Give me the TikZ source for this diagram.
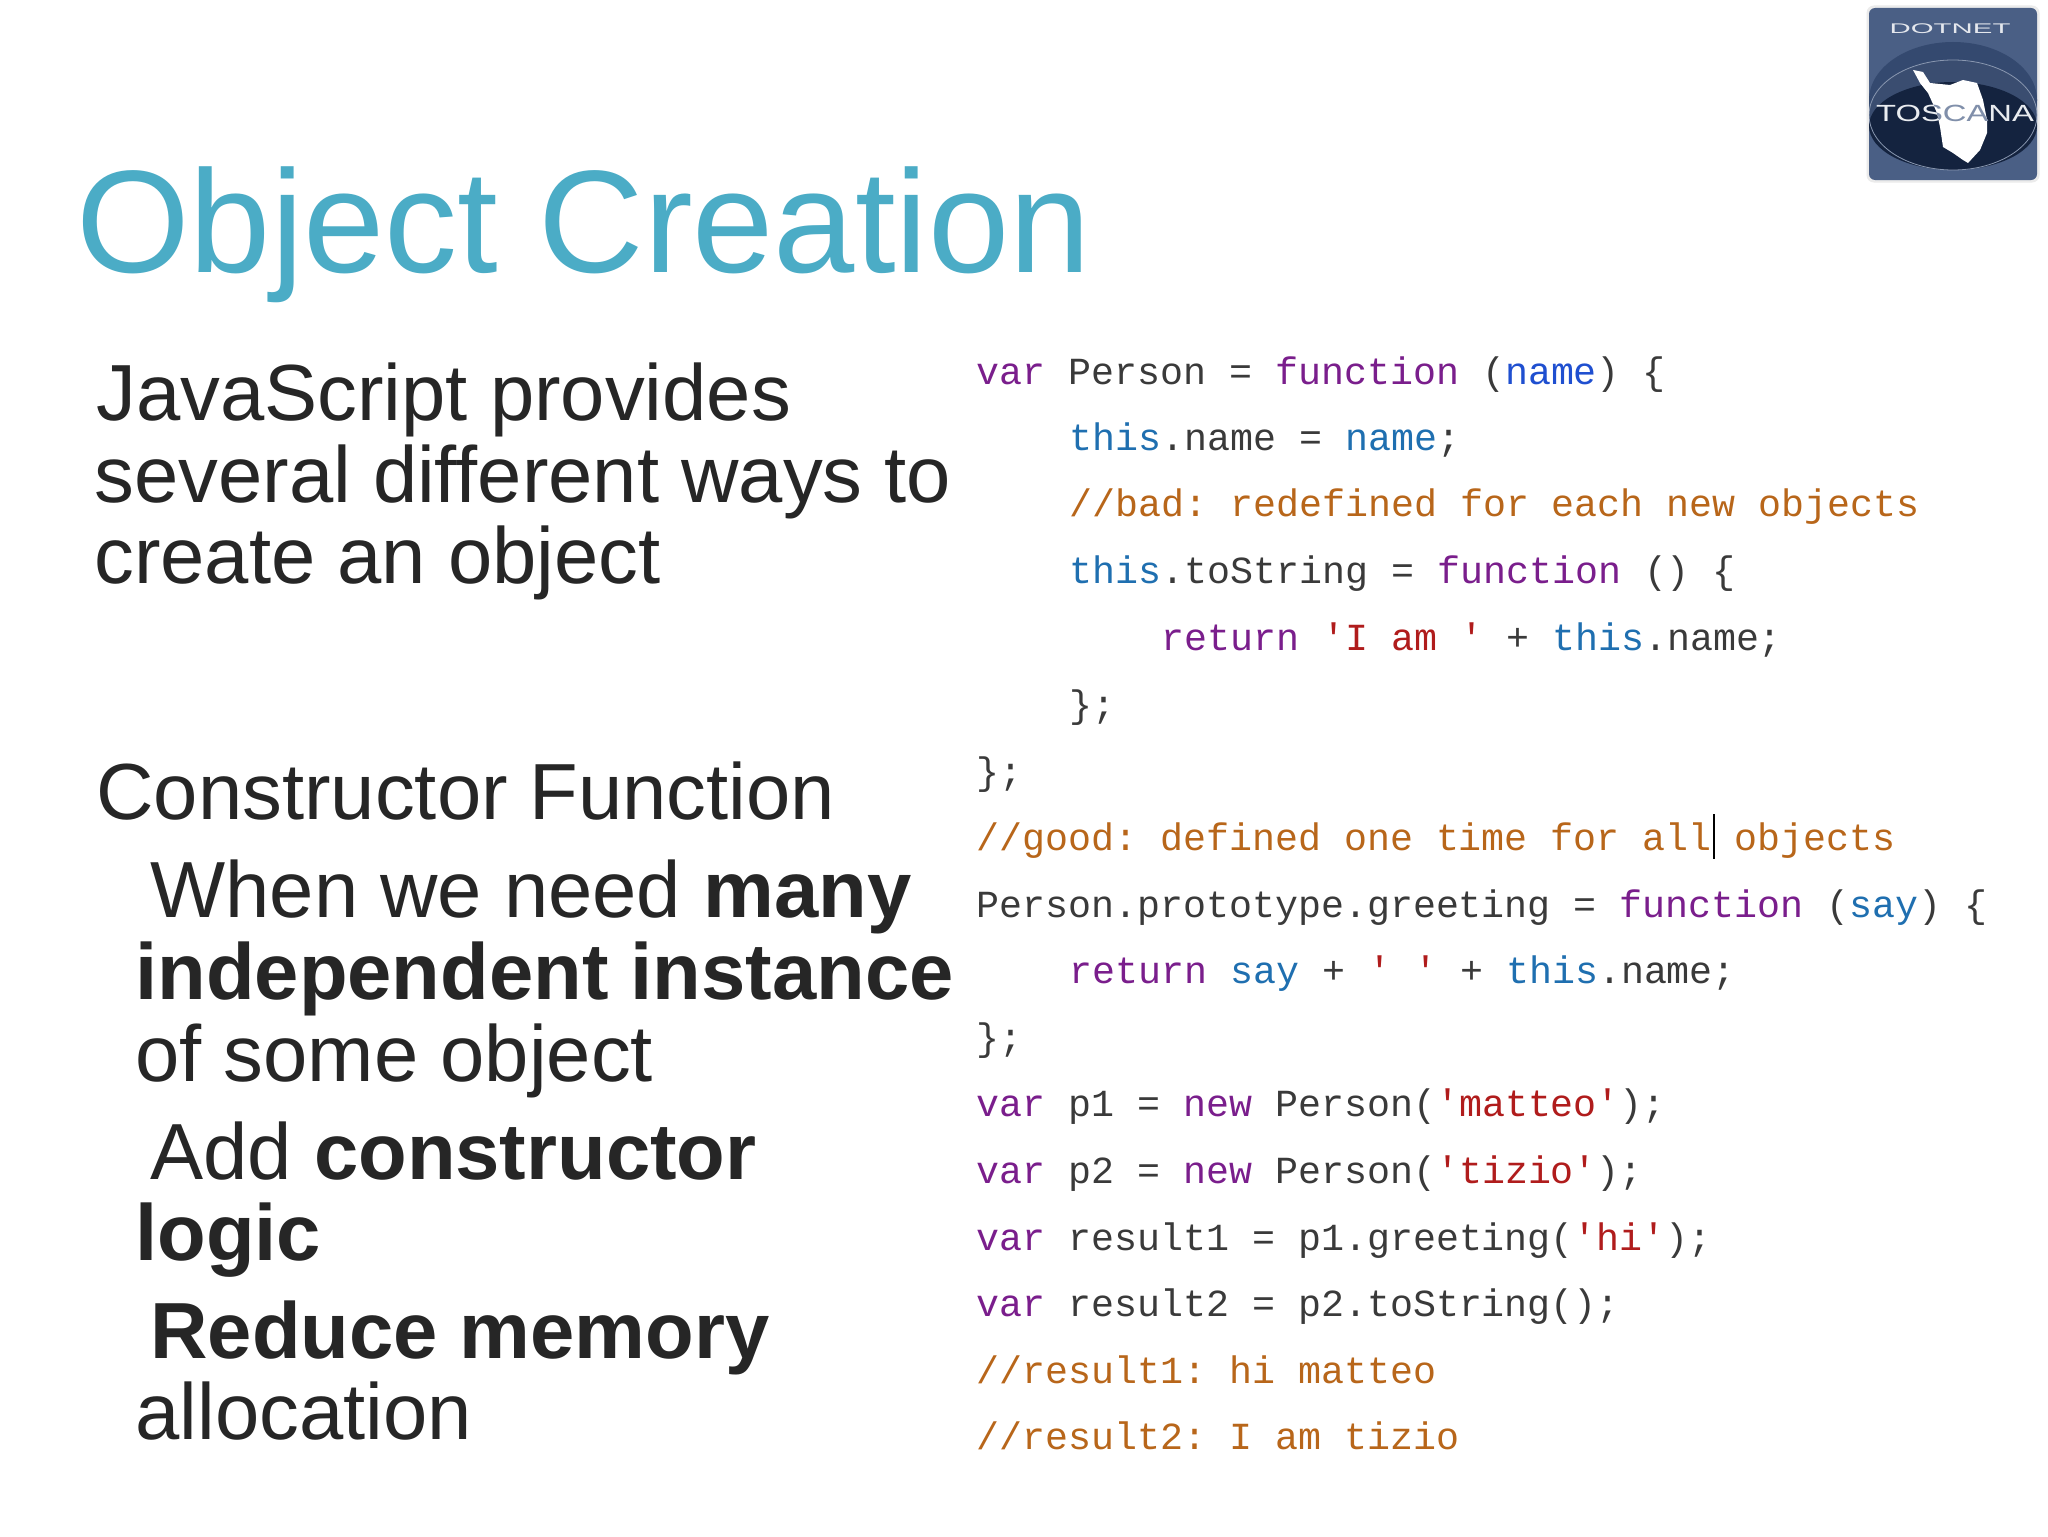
\documentclass[tikz,border=0pt]{standalone}
\usepackage{fontspec}
\setmainfont{Liberation Sans}
\setmonofont{Liberation Mono}
\definecolor{titleC}{HTML}{4BACC6}
\definecolor{bodyC}{HTML}{262626}
\definecolor{kw}{HTML}{7A1E8C}
\definecolor{thisC}{HTML}{1F6FB0}
\definecolor{argC}{HTML}{1F4FD0}
\definecolor{cm}{HTML}{B8661A}
\definecolor{strC}{HTML}{B01C1C}
\definecolor{plain}{HTML}{3A3A3A}
\definecolor{logoBg}{HTML}{4A5F85}
\definecolor{logoMid}{HTML}{34496F}
\definecolor{logoDark}{HTML}{14233F}
\newcommand{\K}[1]{\textcolor{kw}{#1}}
\newcommand{\T}[1]{\textcolor{thisC}{#1}}
\newcommand{\A}[1]{\textcolor{argC}{#1}}
\newcommand{\C}[1]{\textcolor{cm}{#1}}
\newcommand{\Q}[1]{\textcolor{strC}{#1}}
\tikzset{
  x=0.5pt,y=-0.5pt,
  head/.style={anchor=base west,inner sep=0pt,text=titleC,font=\fontsize{73}{73}\selectfont},
  txt/.style={anchor=base west,inner sep=0pt,text=bodyC,font=\fontsize{39.8}{40}\selectfont},
  code/.style={anchor=base west,inner sep=0pt,text=plain,font=\ttfamily\fontsize{19.15}{20}\selectfont},
  logotall/.style={inner sep=0pt,xscale=1.4,font=\fontsize{11.7}{12}\selectfont},
  logosmall/.style={inner sep=0pt,xscale=2.1,text=white!85!logoBg,font=\fontsize{7}{8}\selectfont}
}
\begin{document}
\begin{tikzpicture}
\useasboundingbox (0,0) rectangle (2048,1536);
\fill[white] (0,0) rectangle (2048,1536);
\node[head] (title) at (76,272) {Object Creation};
\node[txt] (l1) at (96,420) {JavaScript provides};
\node[txt] (l2) at (94,502) {several different ways to};
\node[txt] (l3) at (94,583) {create an object};
\node[txt] (l4) at (96,819) {Constructor Function};
\node[txt] (l5) at (150,917) {When we need \textbf{many}};
\node[txt] (l6) at (135,999) {\textbf{independent instance}};
\node[txt] (l7) at (135,1081) {of some object};
\node[txt] (l8) at (150,1179) {Add \textbf{constructor}};
\node[txt] (l9) at (135,1260) {\textbf{logic}};
\node[txt] (l10) at (150,1358) {\textbf{Reduce memory}};
\node[txt] (l11) at (135,1439) {allocation};
% code
\node[code] (c1) at (976,384) {\K{var} Person = \K{function} (\A{name}) \{};
\node[code] (c2) at (1069,450) {\T{this}.name = \T{name};};
\node[code] (c3) at (1069,516) {\C{//bad: redefined for each new objects}};
\node[code] (c4) at (1069,583) {\T{this}.toString = \K{function} () \{};
\node[code] (c5) at (1161,650) {\K{return} \Q{'I am '} + \T{this}.name;};
\node[code] (c6) at (1069,717) {\};};
\node[code] (c7) at (976,784) {\};};
\node[code] (c8) at (976,850) {\C{//good: defined one time for all objects}};
\node[code] (c9) at (976,917) {Person.prototype.greeting = \K{function} (\T{say}) \{};
\node[code] (c10) at (1069,983) {\K{return} \T{say} + \Q{' '} + \T{this}.name;};
\node[code] (c11) at (976,1050) {\};};
\node[code] (c12) at (976,1116) {\K{var} p1 = \K{new} Person(\Q{'matteo'});};
\node[code] (c13) at (976,1183) {\K{var} p2 = \K{new} Person(\Q{'tizio'});};
\node[code] (c14) at (976,1250) {\K{var} result1 = p1.greeting(\Q{'hi'});};
\node[code] (c15) at (976,1316) {\K{var} result2 = p2.toString();};
\node[code] (c16) at (976,1383) {\C{//result1: hi matteo}};
\node[code] (c17) at (976,1449) {\C{//result2: I am tizio}};
\draw[black,line width=1pt] (1714,814) -- (1714,859);
% logo
\draw[black!8,line width=1.5pt,rounded corners=3pt] (1868,7) rectangle (2038,181);
\fill[logoBg,rounded corners=3pt] (1869,8) rectangle (2037,180);
\begin{scope}
\clip[rounded corners=3pt] (1869,8) rectangle (2037,180);
\fill[logoMid] (1953,100) ellipse (84 and 58);
\fill[logoBg!70!logoDark] (1953,115) ellipse (84 and 55);
\fill[logoDark] (1953,126) ellipse (84 and 44);
\draw[white!35!logoBg,line width=0.4pt] (1953,115) ellipse (84 and 55);
\end{scope}
\path[fill=white,save path=\mapoutline] (1913,70) -- (1923,72) -- (1930,83) -- (1950,85) -- (1963,80) -- (1977,83) -- (1983,100) -- (1987,120) -- (1987,133) -- (1980,150) -- (1968,163) -- (1963,160) -- (1953,153) -- (1943,147) -- (1940,127) -- (1937,113) -- (1928,93) -- (1920,83) -- cycle;
\node[logosmall] (logoa) at (1950,29) {DOTNET};
\node[logotall,text=white!88!logoBg] (logob) at (1955,113) {TOSCANA};
\begin{scope}
\clip[use path=\mapoutline];
\node[logotall,text=logoBg!70!white] (logoc) at (1955,113) {TOSCANA};
\end{scope}
\end{tikzpicture}
\end{document}
